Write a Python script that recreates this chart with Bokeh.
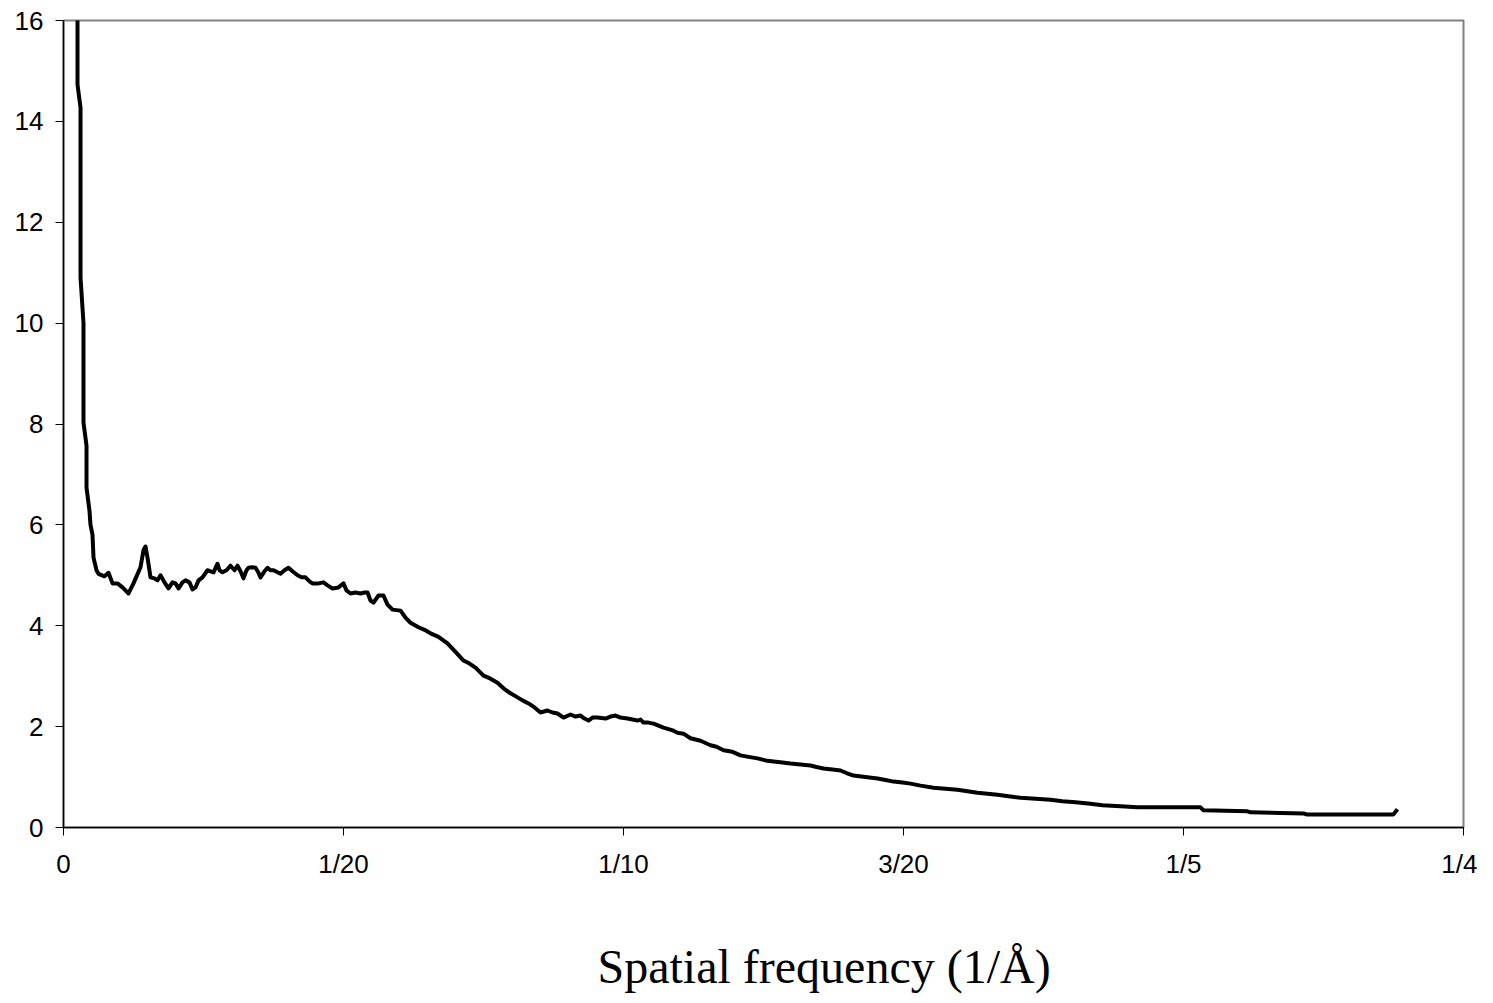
from bokeh.plotting import figure
from bokeh.layouts import column
from bokeh.models import FixedTicker, Range1d, Label
from bokeh.embed import file_html
from bokeh.resources import INLINE

# Spatial frequency (1/Å) and signal values
freq = [0.0025, 0.0025, 0.00304, 0.00304, 0.00357, 0.00357, 0.00411, 0.00411, 0.00464, 0.00482,
        0.00518, 0.00536, 0.00589, 0.00625, 0.00732, 0.00804, 0.00875, 0.00964, 0.01054, 0.01107,
        0.01161, 0.0125, 0.01375, 0.01429, 0.01464, 0.015, 0.01554, 0.01625, 0.01679, 0.01732,
        0.01804, 0.01875, 0.01946, 0.02, 0.02054, 0.02125, 0.02179, 0.0225, 0.02304, 0.02357,
        0.02411, 0.02482, 0.02571, 0.02625, 0.02679, 0.0275, 0.02786, 0.02839, 0.02911, 0.02982,
        0.03054, 0.03107, 0.03161, 0.03214, 0.03268, 0.03304, 0.03375, 0.03429, 0.03482, 0.03518,
        0.03589, 0.03643, 0.03696, 0.0375, 0.03821, 0.03875, 0.03946, 0.04018, 0.04089, 0.04179,
        0.0425, 0.04321, 0.04393, 0.04446, 0.04554, 0.04643, 0.04714, 0.04804, 0.04911, 0.05,
        0.05054, 0.05125, 0.05214, 0.05304, 0.05375, 0.05429, 0.05482, 0.05536, 0.05625, 0.05714,
        0.05786, 0.05875, 0.06018, 0.06107, 0.06196, 0.06339, 0.06446, 0.06554, 0.06696, 0.06857,
        0.07, 0.07143, 0.0725, 0.07357, 0.075, 0.07625, 0.0775, 0.07857, 0.07982, 0.08107,
        0.08196, 0.08304, 0.08411, 0.08518, 0.08643, 0.08732, 0.08821, 0.08929, 0.09054, 0.09143,
        0.09232, 0.09304, 0.09375, 0.09446, 0.09536, 0.09607, 0.09679, 0.09768, 0.09857, 0.09946,
        0.10071, 0.10161, 0.1025, 0.10304, 0.10357, 0.10446, 0.10536, 0.10625, 0.10714, 0.10804,
        0.10893, 0.10964, 0.11071, 0.11196, 0.11375, 0.11554, 0.11661, 0.11786, 0.11946, 0.12089,
        0.12232, 0.12393, 0.12536, 0.12679, 0.12839, 0.12982, 0.13161, 0.13339, 0.13446, 0.13571,
        0.13732, 0.13875, 0.13982, 0.14107, 0.14321, 0.14536, 0.14679, 0.14821, 0.14982, 0.15125,
        0.15304, 0.15536, 0.1575, 0.15964, 0.16143, 0.16321, 0.165, 0.16679, 0.16875, 0.17089,
        0.17357, 0.17625, 0.17839, 0.18071, 0.18339, 0.18554, 0.18875, 0.19179, 0.19589, 0.20304,
        0.20357, 0.21143, 0.21196, 0.22143, 0.22196, 0.2375, 0.23821]

signal = [20.0, 14.73, 14.27, 10.9, 10.0, 8.03, 7.57, 6.74, 6.28, 6.0,
          5.8, 5.35, 5.1, 5.03, 4.98, 5.05, 4.84, 4.84, 4.76, 4.7,
          4.64, 4.84, 5.16, 5.5, 5.57, 5.35, 4.96, 4.94, 4.9, 5.0,
          4.86, 4.74, 4.86, 4.84, 4.74, 4.86, 4.9, 4.86, 4.72, 4.76,
          4.9, 4.96, 5.1, 5.08, 5.06, 5.23, 5.1, 5.06, 5.1, 5.19,
          5.1, 5.19, 5.08, 4.94, 5.1, 5.15, 5.16, 5.15, 5.05, 4.96,
          5.08, 5.15, 5.1, 5.1, 5.06, 5.03, 5.1, 5.15, 5.08, 5.0,
          4.96, 4.96, 4.88, 4.84, 4.84, 4.86, 4.8, 4.74, 4.76, 4.84,
          4.7, 4.64, 4.66, 4.64, 4.66, 4.66, 4.5, 4.46, 4.6, 4.6,
          4.42, 4.32, 4.3, 4.16, 4.06, 3.97, 3.92, 3.85, 3.78, 3.65,
          3.48, 3.31, 3.25, 3.17, 3.01, 2.95, 2.87, 2.76, 2.66, 2.58,
          2.52, 2.46, 2.38, 2.28, 2.32, 2.28, 2.26, 2.18, 2.24, 2.2,
          2.22, 2.16, 2.12, 2.18, 2.18, 2.17, 2.16, 2.2, 2.22, 2.18,
          2.16, 2.14, 2.12, 2.14, 2.08, 2.08, 2.06, 2.02, 1.98, 1.95,
          1.92, 1.88, 1.86, 1.77, 1.72, 1.63, 1.6, 1.53, 1.5, 1.43,
          1.4, 1.37, 1.33, 1.31, 1.29, 1.27, 1.25, 1.23, 1.2, 1.17,
          1.15, 1.13, 1.08, 1.03, 1.0, 0.97, 0.94, 0.91, 0.89, 0.87,
          0.83, 0.79, 0.77, 0.75, 0.72, 0.69, 0.67, 0.65, 0.62, 0.59,
          0.57, 0.55, 0.52, 0.5, 0.47, 0.44, 0.42, 0.4, 0.4, 0.4,
          0.34, 0.32, 0.3, 0.28, 0.26, 0.26, 0.36]

x_ticks = [0, 0.05, 0.1, 0.15, 0.2, 0.25]
x_tick_labels = ["0", "1/20", "1/10", "3/20", "1/5", "1/4"]
y_ticks = [0, 2, 4, 6, 8, 10, 12, 14, 16]
x_title = "Spatial frequency (1/Å)"

p = figure(width=1477, height=878, output_backend="svg", toolbar_location=None,
           x_range=Range1d(0, 0.25), y_range=Range1d(0, 16),
           frame_width=1400, frame_height=807,
           min_border_left=63, min_border_right=14, min_border_top=20, min_border_bottom=51)

p.line(freq, signal, line_color="black", line_width=4, line_join="round")

p.xgrid.visible = False
p.ygrid.visible = False
p.outline_line_color = "#808080"
p.outline_line_width = 2
p.background_fill_color = "white"
p.border_fill_color = "white"

for ax in (p.xaxis[0], p.yaxis[0]):
    ax.axis_line_color = "black"
    ax.axis_line_width = 1.5
    ax.major_tick_line_color = "black"
    ax.major_tick_line_width = 1
    ax.major_tick_out = 8
    ax.major_tick_in = 0
    ax.minor_tick_out = 0
    ax.minor_tick_in = 0
    ax.major_label_text_font = "Liberation Sans"
    ax.major_label_text_font_size = "26px"
    ax.major_label_text_color = "black"

p.xaxis[0].ticker = FixedTicker(ticks=x_ticks)
p.xaxis[0].major_label_overrides = {t: l for t, l in zip(x_ticks, x_tick_labels)}
p.xaxis[0].major_label_standoff = 13
p.yaxis[0].ticker = FixedTicker(ticks=y_ticks)
p.yaxis[0].major_label_standoff = 12

# strip beneath the chart carrying the x-axis title
cap = figure(width=1477, height=117, output_backend="svg", toolbar_location=None,
             x_range=Range1d(0, 1), y_range=Range1d(0, 1),
             x_axis_location=None, y_axis_location=None, min_border=0)
cap.xgrid.visible = False
cap.ygrid.visible = False
cap.outline_line_color = None
cap.background_fill_color = "white"
cap.border_fill_color = "white"
cap.add_layout(Label(x=534, y=32, x_units="screen", y_units="screen", text=x_title,
                     text_font="Liberation Serif", text_font_size="48px", text_color="black",
                     text_align="left", text_baseline="alphabetic"))

layout = column(p, cap, spacing=0)
open("out.html", "w").write(file_html(layout, INLINE))
